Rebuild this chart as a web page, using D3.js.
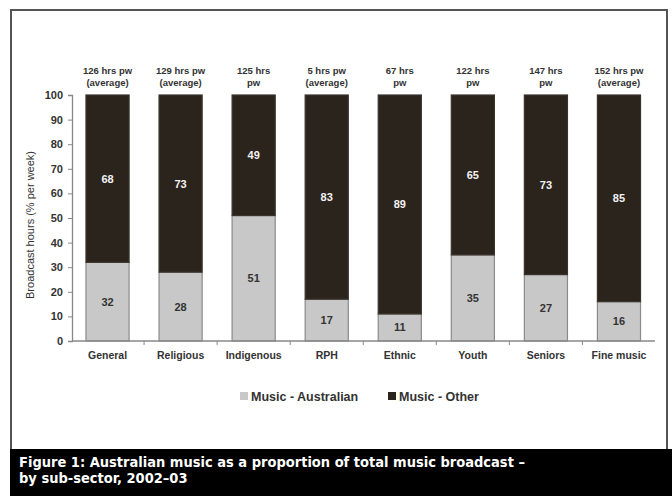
<!DOCTYPE html>
<html><head><meta charset="utf-8">
<script src="https://cdn.jsdelivr.net/npm/d3@7"></script>
<style>body{margin:0;background:#fff}svg{display:block}</style>
</head><body><svg id="c" width="672" height="496"></svg>
<script>
const categories = ["General","Religious","Indigenous","RPH","Ethnic","Youth","Seniors","Fine music"];
const australian = [32,28,51,17,11,35,27,16];
const other = [68,73,49,83,89,65,73,85];
const topLabels = [["126 hrs pw","(average)"],["129 hrs pw","(average)"],["125 hrs","pw"],["5 hrs pw","(average)"],["67 hrs","pw"],["122 hrs","pw"],["147 hrs","pw"],["152 hrs pw","(average)"]];
const yTicks = [0,10,20,30,40,50,60,70,80,90,100];
const seriesNames = ["Music - Australian","Music - Other"];
const colors = ["#c8c8c8","#2b241d"];
const captionLines = ["Figure 1: Australian music as a proportion of total music broadcast –","by sub-sector, 2002–03"];

const svg = d3.select("#c");
const F = "'Liberation Sans', Arial, sans-serif";
// frame
svg.append("path").attr("d","M11,449V10H667V449").attr("fill","none").attr("stroke","#555").attr("stroke-width",2);
svg.append("rect").attr("x",10).attr("y",449).attr("width",662).attr("height",47).attr("fill","#000");
svg.selectAll("text.cap").data(captionLines).join("text")
  .attr("x",19).attr("y",(d,i)=>467+i*16).attr("fill","#fff")
  .attr("font-family","'Liberation Sans Narrow','DejaVu Sans Condensed',sans-serif").attr("font-weight","bold").attr("font-size",14.5)
  .text(d=>d);

const x = d3.scaleBand().domain(categories).range([71,655.5]).paddingInner(0.41).paddingOuter(0.205);
const y = d3.scaleLinear().domain([0,100]).range([341,95]).clamp(true);

const data = categories.map((c,i)=>({cat:c,aus:australian[i],oth:other[i]}));
const stack = d3.stack().keys(["aus","oth"])(data);

const g = svg.append("g");
stack.forEach((s,si)=>{
  g.selectAll(null).data(s).join("rect")
    .attr("x",d=>x(d.data.cat)).attr("width",x.bandwidth())
    .attr("y",d=>y(d[1])).attr("height",d=>y(d[0])-y(d[1]))
    .attr("fill",colors[si]).attr("stroke",si===0?"#8a8a8a":"#3a332c").attr("stroke-width",1.2);
  g.selectAll(null).data(s).join("text")
    .attr("x",d=>x(d.data.cat)+x.bandwidth()/2)
    .attr("y",d=>(y(d[0])+y(Math.min(d[1],100)))/2+4)
    .attr("text-anchor","middle").attr("font-family",F).attr("font-weight","bold").attr("font-size",11)
    .attr("fill",si===0?"#333":"#f2f2f2")
    .text(d=>d[1]-d[0]);
});

// y axis
const ya = svg.append("g").attr("transform","translate(72,0)").call(d3.axisLeft(y).tickValues(yTicks).tickSize(4).tickPadding(5));
ya.select(".domain").attr("stroke","#888").attr("stroke-width",1.3);
ya.selectAll(".tick line").attr("stroke","#888");
ya.selectAll("text").attr("font-family",F).attr("font-weight","bold").attr("font-size",11).attr("fill","#333");

// x axis
const xa = svg.append("g").attr("transform","translate(0,341)").call(d3.axisBottom(x).tickSize(0).tickPadding(11));
xa.select(".domain").attr("d","M72,0H655").attr("stroke","#888").attr("stroke-width",1.5);
xa.selectAll("text").attr("font-family",F).attr("font-weight","bold").attr("font-size",10.5).attr("fill","#333");
const step = x.step();
svg.append("g").selectAll("line").data(categories.slice(1)).join("line")
  .attr("x1",d=>x(d)-step*x.paddingInner()/2).attr("x2",d=>x(d)-step*x.paddingInner()/2)
  .attr("y1",341).attr("y2",345).attr("stroke","#888");

// top labels
categories.forEach((c,i)=>{
  svg.append("text").attr("x",x(c)+x.bandwidth()/2).attr("text-anchor","middle")
    .attr("font-family",F).attr("font-weight","bold").attr("font-size",9.5).attr("fill","#333")
    .selectAll("tspan").data(topLabels[i]).join("tspan")
    .attr("x",x(c)+x.bandwidth()/2).attr("y",(d,k)=>74+k*12).text(d=>d);
});

// y title
svg.append("text").attr("transform","translate(34,225) rotate(-90)").attr("text-anchor","middle")
  .attr("font-family",F).attr("font-size",11).attr("fill","#333").text("Broadcast hours (% per week)");

// legend
const legX = [240,388];
seriesNames.forEach((n,i)=>{
  svg.append("rect").attr("x",legX[i]).attr("y",392).attr("width",8).attr("height",8).attr("fill",colors[i]);
  svg.append("text").attr("x",legX[i]+11).attr("y",400.5).attr("font-family",F).attr("font-weight","bold")
    .attr("font-size",12.5).attr("fill","#333").text(n);
});
</script></body></html>
